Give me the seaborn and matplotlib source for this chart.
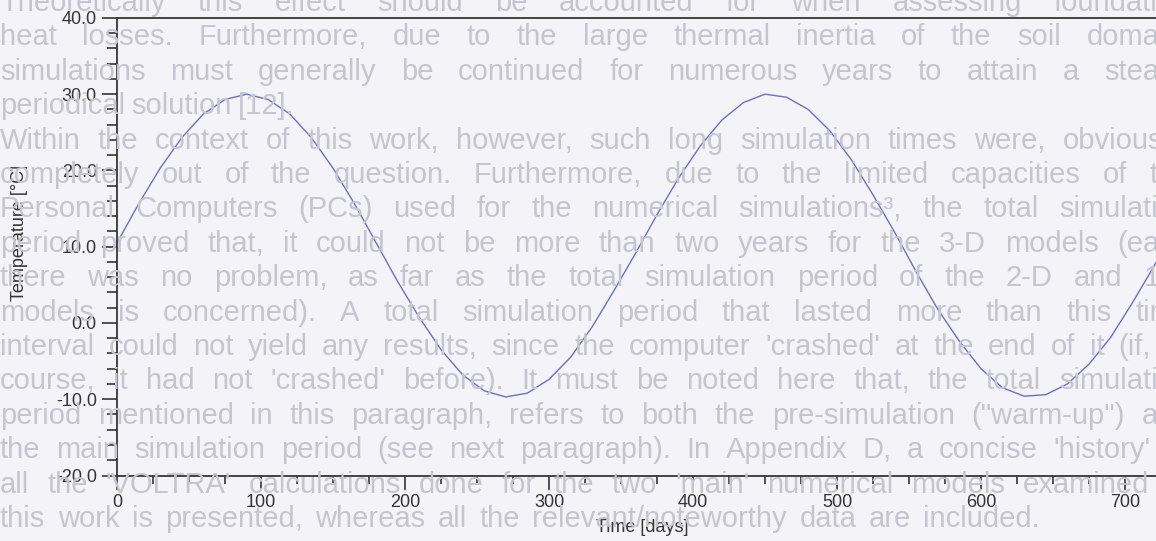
import numpy as np
import pandas as pd
import matplotlib
matplotlib.use("Agg")
import matplotlib.pyplot as plt
from matplotlib.ticker import MultipleLocator, FormatStrFormatter
import seaborn as sns

# temperature curve (every 15 days)
days = [0, 15, 30, 45, 60, 75, 90, 105, 120, 135, 150, 165, 180, 195, 210, 225,
        240, 255, 270, 285, 300, 315, 330, 345, 360, 375, 390, 405, 420, 435, 450,
        465, 480, 495, 510, 525, 540, 555, 570, 585, 600, 615, 630, 645, 660, 675,
        690, 705, 720, 730]
temps = [10.5, 15.6, 20.3, 24.3, 27.4, 29.3, 30.0, 29.3, 27.4, 24.3, 20.3, 15.6,
         10.5, 5.4, 0.7, -3.5, -6.8, -8.9, -9.7, -9.2, -7.4, -4.5, -0.5, 4.2, 9.1,
         14.2, 19.0, 23.2, 26.6, 28.9, 30.0, 29.6, 28.0, 25.2, 21.4, 16.8, 11.9,
         6.7, 1.8, -2.4, -6.0, -8.5, -9.6, -9.4, -8.0, -5.4, -1.9, 2.6, 7.4, 10.8]

# page text that shows through behind the chart
page_lines = [
    "Theoretically this effect should be accounted for when assessing foundation",
    "heat losses.  Furthermore, due to the large thermal inertia of the soil domain,",
    "simulations must generally be continued for numerous years to attain a steady",
    "periodical solution [12].",
    "Within the context of this work, however, such long simulation times were, obviously,",
    "completely out of the question.  Furthermore, due to the limited capacities of the",
    "Personal Computers (PCs) used for the numerical simulations³, the total simulation",
    "period proved that, it could not be more than two years for the 3-D models (each",
    "there was no problem, as far as the total simulation period of the 2-D and 1-D",
    "models is concerned).  A total simulation period that lasted more than this time",
    "interval could not yield any results, since the computer 'crashed' at the end of it (if, of",
    "course, it had not 'crashed' before).  It must be noted here that, the total simulation",
    "period mentioned in this paragraph, refers to both the pre-simulation (\"warm-up\") and",
    "the main simulation period (see next paragraph).  In Appendix D, a concise 'history' of",
    "all the 'VOLTRA' calculations done for the two 'main' numerical models examined in",
    "this work is presented, whereas all the relevant/noteworthy data are included.",
]
# width each page line is justified to (None = natural spacing)
line_widths = [1190] * 16
line_widths[3] = None
line_widths[15] = 1040

df = pd.DataFrame({"Time": days, "Temperature": temps})

sns.set_style("ticks")
plt.rcParams["font.family"] = ["Liberation Sans", "DejaVu Sans"]
plt.rcParams["axes.unicode_minus"] = False

W, H = 1156, 541
bg = "#f3f3f8"
ink = "#353535"
fig = plt.figure(figsize=(W / 100, H / 100), dpi=100, facecolor=bg)

# justified background paragraph
renderer = fig.canvas.get_renderer()
for i, line in enumerate(page_lines):
    y = 1 - (3 + i * 34.4) / H
    words = line.split()
    texts = [fig.text(0, y, w, fontsize=21, color="#c5c5cd", va="center",
                      zorder=0) for w in words]
    widths = [t.get_window_extent(renderer).width for t in texts]
    space = 6.0
    if line_widths[i] is not None and len(words) > 1:
        space = max(4.0, (line_widths[i] - sum(widths)) / (len(words) - 1))
    x = 0.0
    for t, w in zip(texts, widths):
        t.set_x(x / W)
        x += w + space

# axes placed so that day 0 sits at x=117 px and -20..40 spans y=475.5..17.9 px
ax = fig.add_axes([117 / W, 65.5 / H, 1051.2 / W, 457.6 / H])
ax.set_facecolor("none")
sns.lineplot(data=df, x="Time", y="Temperature", ax=ax, color="#6e6ec4",
             linewidth=1.0)

ax.set_xlim(0, 730)
ax.set_ylim(-20, 40)
ax.xaxis.set_major_locator(MultipleLocator(100))
ax.xaxis.set_minor_locator(MultipleLocator(25))
ax.yaxis.set_major_locator(MultipleLocator(10))
ax.yaxis.set_minor_locator(MultipleLocator(2))
ax.yaxis.set_major_formatter(FormatStrFormatter("%.1f"))

for side in ["left", "bottom", "top"]:
    ax.spines[side].set_color(ink)
    ax.spines[side].set_linewidth(1.3)
ax.spines["right"].set_visible(False)

ax.tick_params(axis="y", which="major", direction="out", length=11,
               width=1.2, color=ink, labelsize=13, labelcolor=ink, pad=3.5)
ax.tick_params(axis="y", which="minor", direction="out", length=7, width=1.2,
               color=ink)
ax.tick_params(axis="x", which="major", direction="out", length=10,
               width=1.2, color=ink, labelsize=13, labelcolor=ink, pad=3)
ax.tick_params(axis="x", which="minor", direction="out", length=6, width=1.2,
               color=ink)

ax.set_xlabel("Time [days]", fontsize=13, color=ink)
ax.set_ylabel("Temperature [°C]", fontsize=13, color=ink)
ax.xaxis.set_label_coords(0.5, -(519 - 475.5) / 457.6)
ax.yaxis.set_label_coords(-(117 - 28) / 1051.2, 0.53)

fig.savefig("out.png", dpi=100, facecolor=bg)
